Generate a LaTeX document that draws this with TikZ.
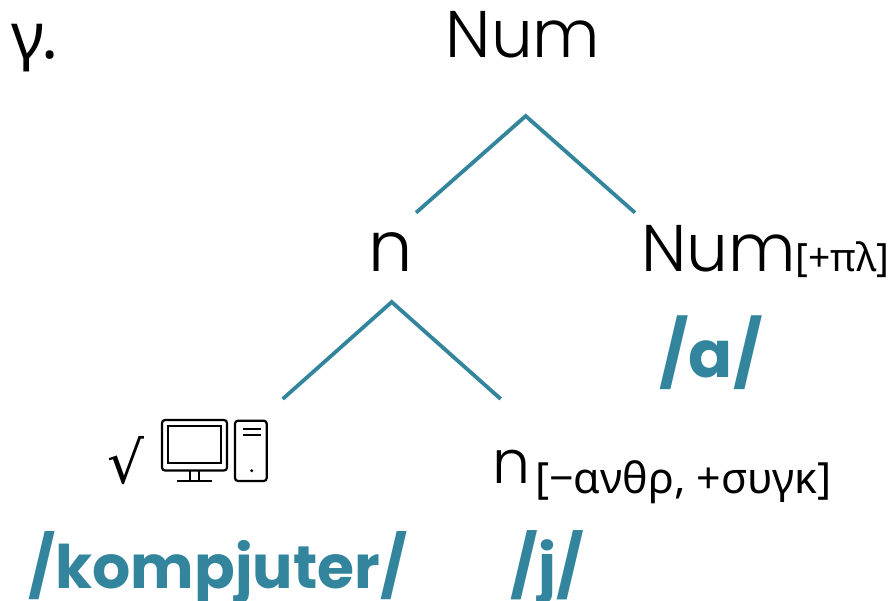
\documentclass[tikz,border=0pt]{standalone}
\usepackage{fontspec}
\setmainfont{Poppins}
\newfontfamily\poplight{Poppins Light}
\newfontfamily\grk{Noto Sans}
\newfontfamily\djv{DejaVu Sans}
\definecolor{tealc}{HTML}{32859C}
\begin{document}
\begin{tikzpicture}[x=1pt,y=-1pt,
  branch/.style={draw=tealc,line width=3.8pt},
  cat/.style={inner sep=0pt,font=\poplight\fontsize{66}{66}\selectfont},
  phon/.style={inner sep=0pt,text=tealc,font=\bfseries\fontsize{66}{66}\selectfont},
  icon/.style={draw=black,line width=2.2pt}]
\useasboundingbox (0,0) rectangle (893,601);
% labels
\node[inner sep=0pt,anchor=base west,font=\grk\fontsize{64}{64}\selectfont] (lab) at (11,59) {γ.};
\node[cat,anchor=base] (num) at (523,58) {Num};
\node[cat,anchor=base,font=\poplight\fontsize{70}{70}\selectfont] (n) at (391,272) {n};
\node[cat,anchor=base west] (numpl) at (641,272) {Num{\grk\fontsize{39}{39}\selectfont[+πλ]}};
\node[phon,anchor=base,font=\bfseries\fontsize{65}{65}\selectfont] (a) at (711,377) {/a/};
\node[inner sep=0pt,anchor=base,font=\djv\fontsize{58}{58}\selectfont] (root) at (126,483) {√};
\node[cat,anchor=base west,font=\poplight\fontsize{60}{60}\selectfont] (nlow) at (492,483) {n\kern5pt\raisebox{-10pt}{\grk\fontsize{43}{43}\selectfont[−ανθρ, +συγκ]}};
\node[phon,anchor=base,font=\bfseries\fontsize{60}{60}\selectfont] (komp) at (218,588) {/kompjuter/};
\node[phon,anchor=base,font=\bfseries\fontsize{61}{61}\selectfont] (j) at (547.5,588) {/j/};
% branches
\coordinate (numapex) at (525.7,116);
\coordinate (numL) at (416,212.7);
\coordinate (numR) at (635,212.7);
\coordinate (napex) at (391.7,302);
\coordinate (nL) at (282.7,399);
\coordinate (nR) at (500.7,399);
\draw[branch] (numL) -- (numapex) -- (numR);
\draw[branch] (nL) -- (napex) -- (nR);
% computer icon
\draw[icon,rounded corners=3pt] (162,420) rectangle (227,470.5);
\draw[icon,line width=2pt] (168,426) rectangle (220.7,463.3);
\draw[icon,line width=2pt] (190,470.5) -- (190,480.7) (199.3,470.5) -- (199.3,480.7);
\draw[icon,line width=2pt] (177,480.7) -- (211.7,480.7);
\draw[icon,rounded corners=3pt] (235,420.7) rectangle (266.7,481);
\draw[icon,line width=2pt] (242.7,429.3) -- (261,429.3) (242.7,435) -- (261,435);
\fill (251.7,470.7) circle (1.6pt);
\end{tikzpicture}
\end{document}
